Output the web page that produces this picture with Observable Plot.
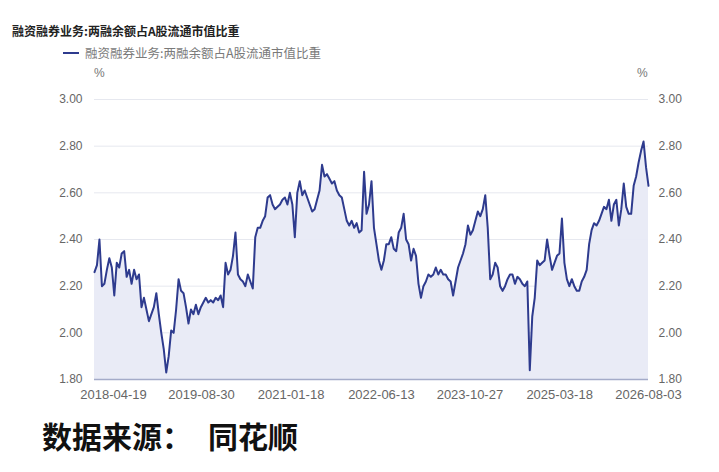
<!DOCTYPE html>
<html>
<head>
<meta charset="utf-8">
<script src="https://cdn.jsdelivr.net/npm/d3@7"></script>
<script src="https://cdn.jsdelivr.net/npm/@observablehq/plot@0.6"></script>
<style>
  html, body { margin: 0; padding: 0; background: #fff; }
  #wrap { position: relative; width: 719px; height: 472px; overflow: hidden; font-family: "Noto Sans CJK SC", "Liberation Sans", sans-serif; }
  .abs { position: absolute; white-space: nowrap; line-height: 1; }
  #chart { position: absolute; left: 0; top: 0; }
</style>
</head>
<body>
<div id="wrap">
  <div id="chart"></div>
  <div class="abs" id="title" style="left:12px; top:25px; font-size:12px; font-weight:bold; color:#222;"></div>
  <div class="abs" id="legend" style="left:63px; top:47px; font-size:12.5px; color:#7a7a7a; display:flex; align-items:center;">
    <span style="display:inline-block; width:16px; height:2px; background:#2e3b8e; margin-right:6px;"></span><span id="legendText"></span>
  </div>
  <div class="abs" id="unitL" style="left:94px; top:67px; font-size:12px; color:#777; font-family:'Liberation Sans',sans-serif;"></div>
  <div class="abs" id="unitR" style="left:637px; top:67px; font-size:12px; color:#777; font-family:'Liberation Sans',sans-serif;"></div>
  <div class="abs" id="source" style="left:42px; top:420px; font-size:30px; font-weight:bold; color:#111;">
    <span id="sourceLabel"></span><span id="sourceName" style="margin-left:16px;"></span>
  </div>
</div>
<script>
// ---- data ----
const titleText = "融资融券业务:两融余额占A股流通市值比重";
const seriesName = "融资融券业务:两融余额占A股流通市值比重";
const unit = "%";
const sourceLabel = "数据来源：";
const sourceName = "同花顺";
const startDate = "2018-01-01";   // first observation
const stepDays = 14;               // observation interval (days)
const values = [
  2.26, 2.29, 2.40, 2.20, 2.21, 2.27, 2.32, 2.28, 2.16, 2.30,
  2.28, 2.34, 2.35, 2.24, 2.27, 2.21, 2.27, 2.23, 2.25, 2.11,
  2.15, 2.10, 2.05, 2.08, 2.11, 2.17, 2.08, 2.00, 1.93, 1.83,
  1.90, 2.01, 2.00, 2.10, 2.23, 2.18, 2.17, 2.11, 2.04, 2.10,
  2.08, 2.12, 2.08, 2.11, 2.13, 2.15, 2.13, 2.14, 2.13, 2.15,
  2.14, 2.16, 2.11, 2.30, 2.25, 2.27, 2.33, 2.43, 2.25, 2.23,
  2.22, 2.20, 2.25, 2.22, 2.19, 2.41, 2.45, 2.45, 2.48, 2.50,
  2.58, 2.59, 2.55, 2.53, 2.54, 2.55, 2.57, 2.58, 2.55, 2.60,
  2.55, 2.41, 2.60, 2.65, 2.59, 2.61, 2.58, 2.55, 2.52, 2.53,
  2.57, 2.61, 2.72, 2.67, 2.68, 2.66, 2.64, 2.65, 2.61, 2.59,
  2.58, 2.53, 2.48, 2.46, 2.48, 2.45, 2.47, 2.43, 2.44, 2.69,
  2.51, 2.55, 2.65, 2.45, 2.38, 2.31, 2.27, 2.31, 2.38, 2.38,
  2.41, 2.36, 2.35, 2.43, 2.45, 2.51, 2.40, 2.38, 2.31, 2.36,
  2.33, 2.21, 2.15, 2.20, 2.22, 2.25, 2.24, 2.25, 2.28, 2.25,
  2.27, 2.25, 2.25, 2.23, 2.22, 2.16, 2.22, 2.28, 2.31, 2.34,
  2.38, 2.46, 2.42, 2.44, 2.48, 2.52, 2.50, 2.53, 2.59, 2.45,
  2.23, 2.25, 2.30, 2.28, 2.20, 2.18, 2.20, 2.23, 2.25, 2.25,
  2.21, 2.24, 2.23, 2.21, 2.20, 2.22, 1.84, 2.07, 2.15, 2.31,
  2.29, 2.30, 2.31, 2.40, 2.33, 2.27, 2.30, 2.33, 2.34, 2.49,
  2.30, 2.23, 2.20, 2.23, 2.20, 2.18, 2.18, 2.22, 2.24, 2.27,
  2.38, 2.44, 2.47, 2.46, 2.48, 2.51, 2.54, 2.53, 2.57, 2.48,
  2.55, 2.57, 2.46, 2.53, 2.64, 2.54, 2.51, 2.51, 2.63, 2.67,
  2.73, 2.78, 2.82, 2.71, 2.63
];
const xTickLabels = ["2018-04-19", "2019-08-30", "2021-01-18", "2022-06-13", "2023-10-27", "2025-03-18", "2026-08-03"];
const yTicks = [1.80, 2.00, 2.20, 2.40, 2.60, 2.80, 3.00];

// ---- build ----
const t0 = new Date(startDate + "T00:00:00Z");
const data = values.map((v, i) => ({date: d3.utcDay.offset(t0, i * stepDays), value: v}));
const xTicks = xTickLabels.map(s => new Date(s + "T00:00:00Z"));
const fmtY = d => d.toFixed(2);
const fmtX = d3.utcFormat("%Y-%m-%d");

document.getElementById("title").textContent = titleText;
document.getElementById("legendText").textContent = seriesName;
document.getElementById("unitL").textContent = unit;
document.getElementById("unitR").textContent = unit;
document.getElementById("sourceLabel").textContent = sourceLabel;
document.getElementById("sourceName").textContent = sourceName;

const chart = Plot.plot({
  width: 719,
  height: 472,
  marginTop: 99,
  marginBottom: 93,
  marginLeft: 94,
  marginRight: 71,
  style: {fontFamily: "'Liberation Sans', Arial, sans-serif", color: "#666", background: "transparent"},
  x: {type: "utc", domain: d3.extent(data, d => d.date)},
  y: {domain: [1.8, 3.0]},
  marks: [
    Plot.ruleY(yTicks.filter(d => d > 1.8), {stroke: "#e6e8ef", strokeWidth: 1}),
    Plot.areaY(data, {x: "date", y1: 1.8, y2: "value", fill: "#e8eaf6", fillOpacity: 0.95}),
    Plot.ruleY([1.8], {stroke: "#a4abc9", strokeWidth: 1.5}),
    Plot.lineY(data, {x: "date", y: "value", stroke: "#2e3b8e", strokeWidth: 2, strokeLinejoin: "round"}),
    Plot.axisY(yTicks, {anchor: "left", tickSize: 0, tickPadding: 12, tickFormat: fmtY, label: null, fontSize: 12}),
    Plot.axisY(yTicks, {anchor: "right", tickSize: 0, tickPadding: 10, tickFormat: fmtY, label: null, fontSize: 12}),
    Plot.axisX(xTicks, {anchor: "bottom", tickSize: 0, tickPadding: 10, tickFormat: fmtX, label: null, fontSize: 13})
  ]
});
document.getElementById("chart").appendChild(chart);
</script>
</body>
</html>
